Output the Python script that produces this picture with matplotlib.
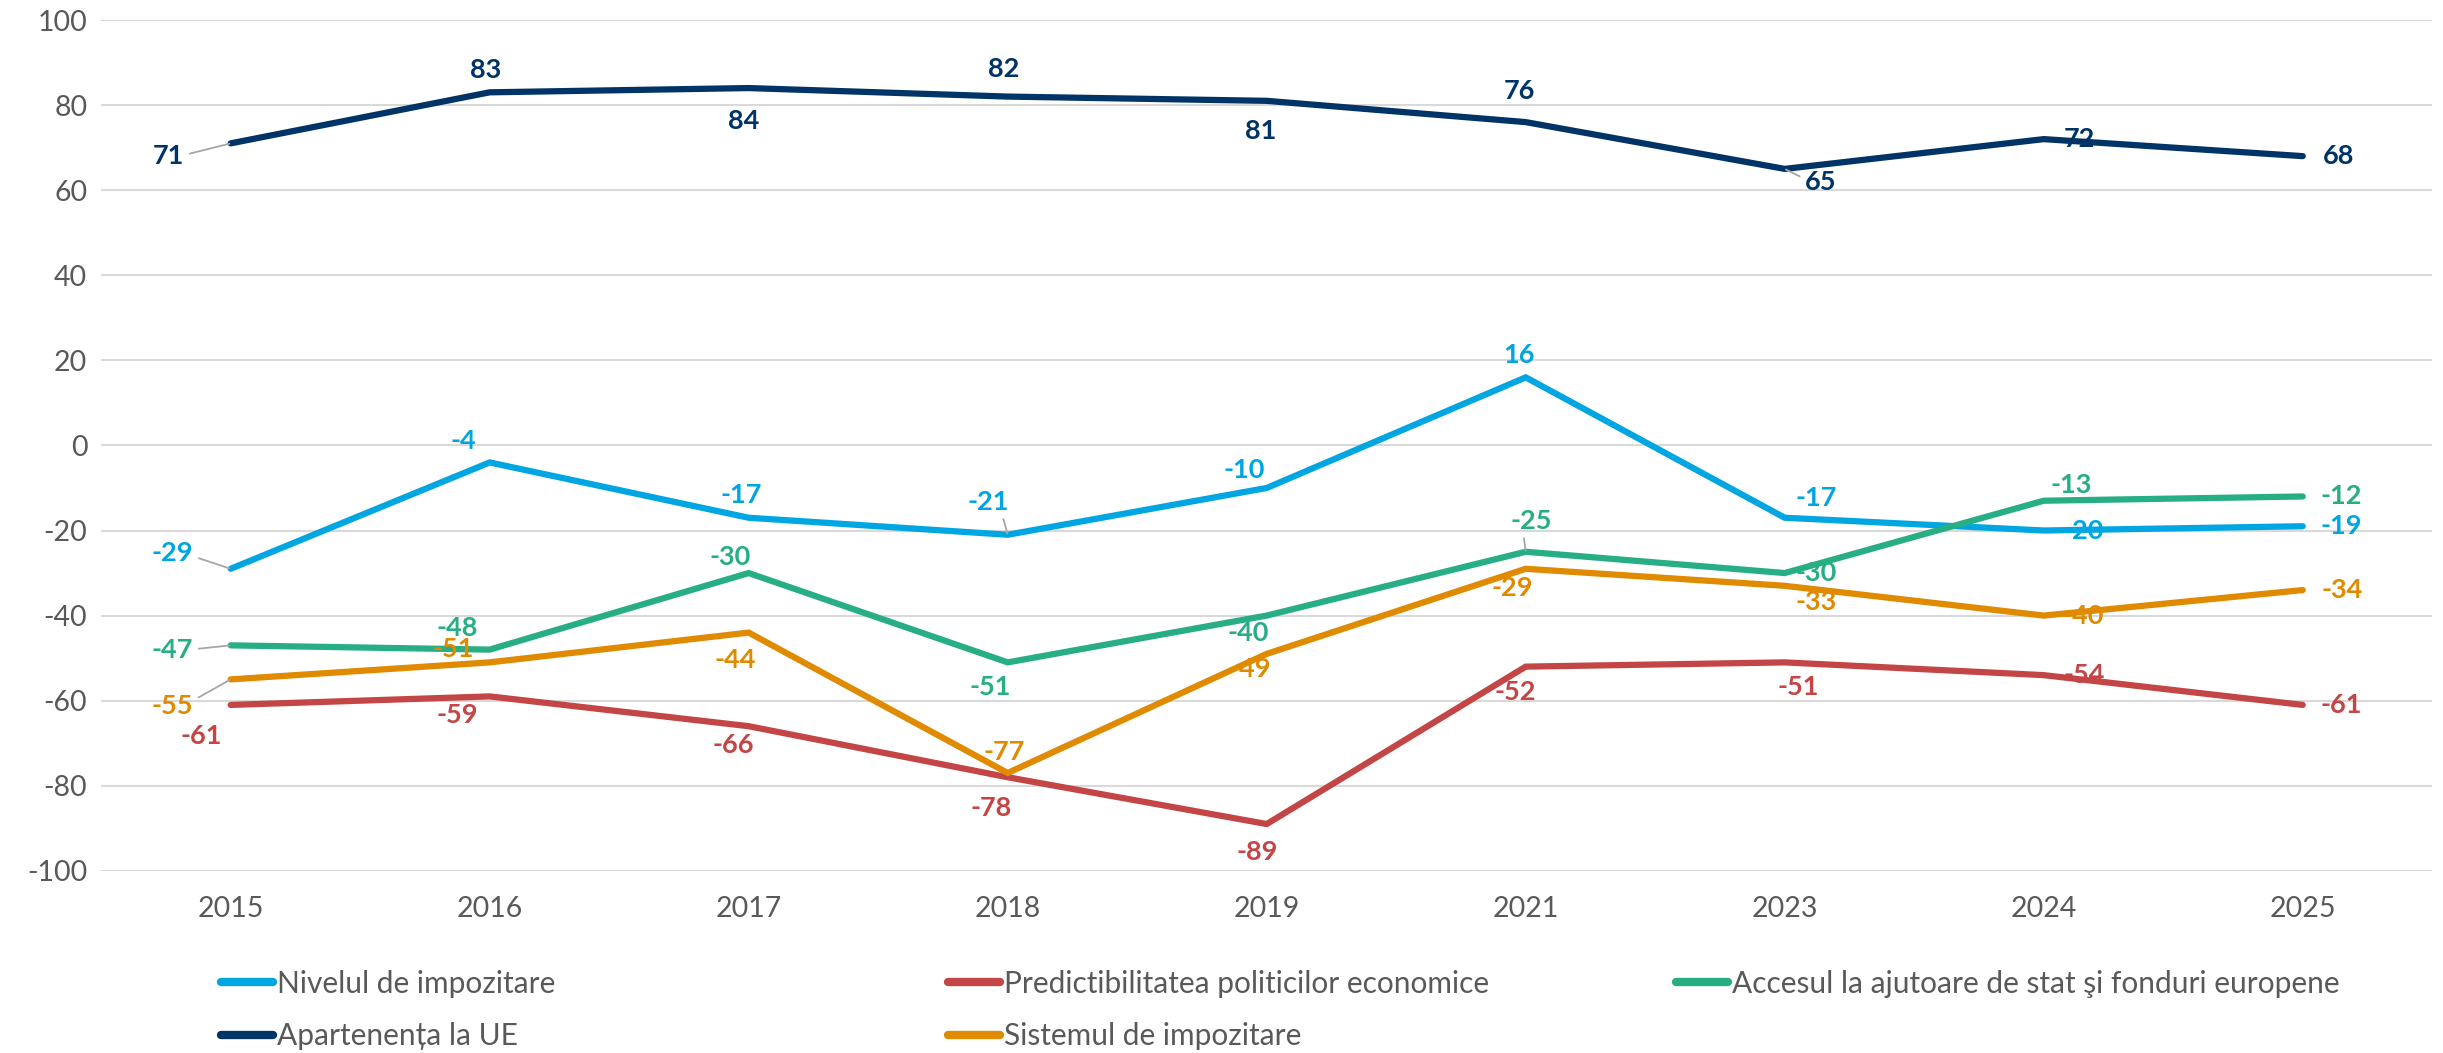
import matplotlib
matplotlib.use('Agg')
import matplotlib.pyplot as plt
from matplotlib.lines import Line2D

plt.rcParams['font.family'] = ['Lato', 'DejaVu Sans']
plt.rcParams['axes.unicode_minus'] = False

# Date
ani = ['2015', '2016', '2017', '2018', '2019', '2021', '2023', '2024', '2025']

nivel_impozitare = [-29, -4, -17, -21, -10, 16, -17, -20, -19]
predictibilitate = [-61, -59, -66, -78, -89, -52, -51, -54, -61]
acces_fonduri = [-47, -48, -30, -51, -40, -25, -30, -13, -12]
apartenenta_ue = [71, 83, 84, 82, 81, 76, 65, 72, 68]
sistem_impozitare = [-55, -51, -44, -77, -49, -29, -33, -40, -34]

nume = ['Nivelul de impozitare',
        'Predictibilitatea politicilor economice',
        'Accesul la ajutoare de stat şi fonduri europene',
        'Apartenența la UE',
        'Sistemul de impozitare']

culori = ['#00A6E2', '#C44545', '#27AE84', '#003467', '#E08A00']

# pozitia etichetelor (dx, dy in pixeli, linie de ghidare)
pozitii = [
    [(-58, 16, 1), (-26, 21, 0), (-7, 23, 0), (-19, 33, 1), (-23, 18, 0),
     (-7, 22, 0), (31, 20, 0), (39, 0, 0), (39, 0, 0)],
    [(-29, -31, 0), (-32, -19, 0), (-15, -19, 0), (-17, -31, 0), (-10, -28, 0),
     (-10, -25, 0), (14, -25, 0), (41, 0, 0), (39, 0, 0)],
    [(-58, -5, 1), (-32, 22, 0), (-19, 16, 0), (-17, -25, 0), (-19, -17, 0),
     (6, 31, 1), (31, 0, 0), (27, 16, 0), (39, 0, 0)],
    [(-62, -13, 1), (-4, 22, 0), (-5, -33, 0), (-4, 28, 0), (-6, -30, 0),
     (-6, 31, 0), (36, -13, 1), (36, 0, 0), (36, 0, 0)],
    [(-58, -27, 1), (-36, 13, 0), (-13, -27, 0), (-4, 21, 0), (-16, -15, 0),
     (-13, -19, 0), (31, -16, 0), (39, 0, 0), (39, 0, 0)],
]

serii = [nivel_impozitare, predictibilitate, acces_fonduri, apartenenta_ue, sistem_impozitare]

fig = plt.figure(figsize=(24.43, 10.53), dpi=100)
ax = fig.add_axes([0.0414, 0.173, 0.9542, 0.808])

x = list(range(len(ani)))
linii = []
for valori, culoare, eticheta in zip(serii, culori, nume):
    l, = ax.plot(x, valori, color=culoare, lw=4.5, solid_capstyle='round',
                 solid_joinstyle='miter', zorder=3, label=eticheta)
    linii.append(l)

# etichete de date
for valori, culoare, poz in zip(serii, culori, pozitii):
    for i, v in enumerate(valori):
        dx, dy, ghid = poz[i]
        arrow = None
        if ghid:
            arrow = dict(arrowstyle='-', color='#A6A6A6', lw=1.3,
                         shrinkA=2, shrinkB=1,
                         connectionstyle='arc,angleA=%d,armA=10,rad=0' % (0 if dx < 0 else 180))
        ax.annotate(str(v), (i, v), xytext=(dx, dy), textcoords='offset pixels',
                    ha='center', va='center', fontsize=19.5, fontweight='bold',
                    color=culoare, zorder=5, arrowprops=arrow)

ax.set_xlim(-0.5, len(ani) - 0.5)
ax.set_ylim(-100, 100)
ax.set_yticks(range(-100, 101, 20))
ax.set_xticks(x)
ax.set_xticklabels(ani)
ax.grid(axis='y', color='#D9D9D9', lw=1.5)
ax.set_axisbelow(True)
for s in ax.spines.values():
    s.set_visible(False)
ax.tick_params(axis='both', length=0, labelsize=20.5, labelcolor='#595959')
ax.tick_params(axis='x', pad=18)
ax.tick_params(axis='y', pad=10)

# legenda pe doua randuri, trei coloane
pozitii_legenda = [(0.0905, 0.066), (0.388, 0.066), (0.686, 0.066),
                   (0.0905, 0.016), (0.388, 0.016)]
for l, (lx, ly) in zip(linii, pozitii_legenda):
    h = Line2D([], [], color=l.get_color(), lw=6, solid_capstyle='round')
    leg = fig.legend([h], [l.get_label()], loc='center left', bbox_to_anchor=(lx, ly),
                     frameon=False, borderpad=0, borderaxespad=0, handlelength=1.75,
                     handletextpad=0.12, fontsize=21.5, labelcolor='#595959')

fig.savefig('out.png', dpi=100)
